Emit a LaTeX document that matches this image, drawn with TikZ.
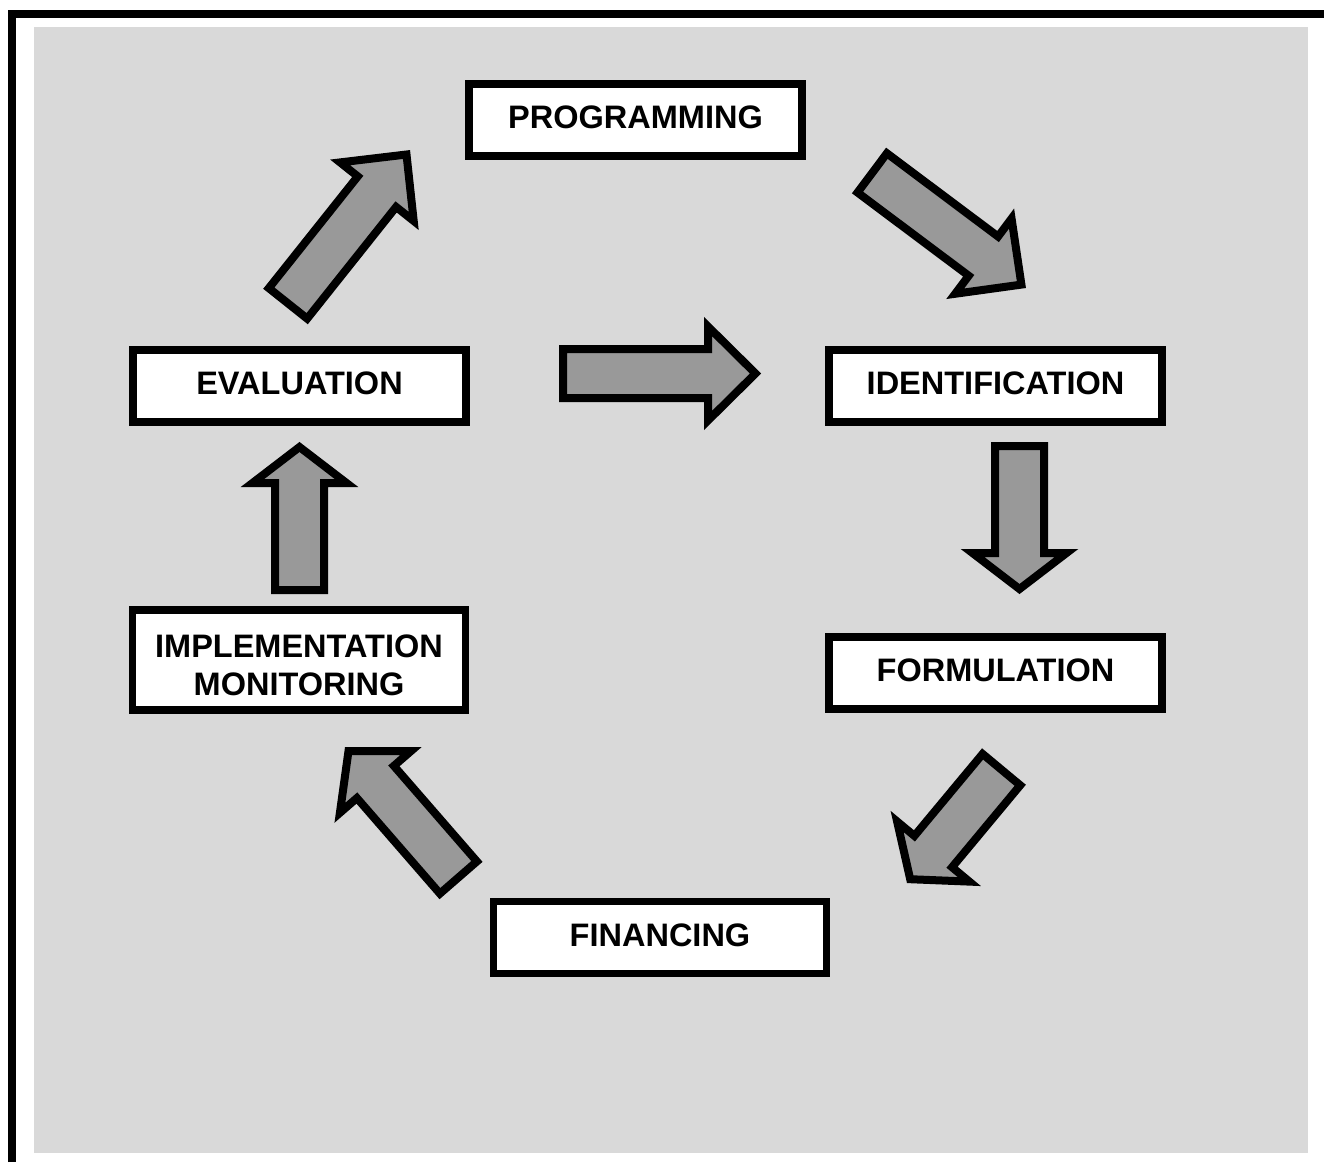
\documentclass[tikz,border=0pt]{standalone}
\usepackage{fontspec}
\setmainfont{Liberation Sans}
\usetikzlibrary{calc}

\definecolor{panel}{HTML}{D9D9D9}
\definecolor{arrowfill}{HTML}{999999}

\tikzset{
  stagebox/.style={draw=black, line width=7.5pt, fill=white,
    minimum width=333pt, minimum height=72pt, inner sep=0pt,
    align=center, font=\bfseries\fontsize{32.5}{37.5}\selectfont},
  oneline/.style={stagebox, text depth=5pt},
  flowarrow/.style={draw=black, fill=arrowfill, line width=8pt, line join=miter}
}

% Block arrow from tail #1 to tip #2, head length #3
\newcommand\drawblockarrow[3]{%
  \coordinate (#1-hb) at ($(#2)!#3!(#1)$);
  \filldraw[flowarrow]
    ($(#1)!24.5pt!90:(#2)$) --
    ($(#1-hb)!24.5pt!90:(#2)$) --
    ($(#1-hb)!47pt!90:(#2)$) --
    (#2) --
    ($(#1-hb)!47pt!-90:(#2)$) --
    ($(#1-hb)!24.5pt!-90:(#2)$) --
    ($(#1)!24.5pt!-90:(#2)$) -- cycle;
}

\begin{document}
\begin{tikzpicture}[x=1pt, y=-1pt]
  \useasboundingbox (0,0) rectangle (1324,1162);

  % outer frame and panel
  \draw[line width=8pt, line join=miter] (11.5,1162) -- (11.5,14) -- (1324,14);
  \fill[panel] (34,27) rectangle (1308,1153);

  % stages
  \node[oneline] (prog) at (635.5,120) {PROGRAMMING};
  \node[oneline] (ident) at (995.5,386) {IDENTIFICATION};
  \node[oneline] (form) at (995.5,673) {FORMULATION};
  \node[oneline] (fin) at (660,937.5) {FINANCING};
  \node[stagebox, minimum height=100pt] (impl) at (299,660)
    {\rule{0pt}{33pt}IMPLEMENTATION\\MONITORING};
  \node[oneline] (eval) at (299.5,386) {EVALUATION};

  % arrow end points
  \coordinate (evprog-s) at (288,303.4);
  \coordinate (evprog-e) at (406.5,154.5);
  \coordinate (progid-s) at (872.2,172.9);
  \coordinate (progid-e) at (1021.4,284.6);
  \coordinate (evid-s) at (563,373.5);
  \coordinate (evid-e) at (755.5,373.5);
  \coordinate (idform-s) at (1019.5,446);
  \coordinate (idform-e) at (1019.5,589);
  \coordinate (formfin-s) at (1001.4,769.6);
  \coordinate (formfin-e) at (910.2,879.2);
  \coordinate (finimpl-s) at (458.4,877.5);
  \coordinate (finimpl-e) at (348.5,751);
  \coordinate (impleval-s) at (299.5,590);
  \coordinate (impleval-e) at (299.5,447);

  % flow arrows
  \drawblockarrow{evprog-s}{evprog-e}{47.5pt}
  \drawblockarrow{progid-s}{progid-e}{47.5pt}
  \drawblockarrow{evid-s}{evid-e}{47.5pt}
  \drawblockarrow{idform-s}{idform-e}{36pt}
  \drawblockarrow{formfin-s}{formfin-e}{36pt}
  \drawblockarrow{finimpl-s}{finimpl-e}{41pt}
  \drawblockarrow{impleval-s}{impleval-e}{36pt}
\end{tikzpicture}
\end{document}
